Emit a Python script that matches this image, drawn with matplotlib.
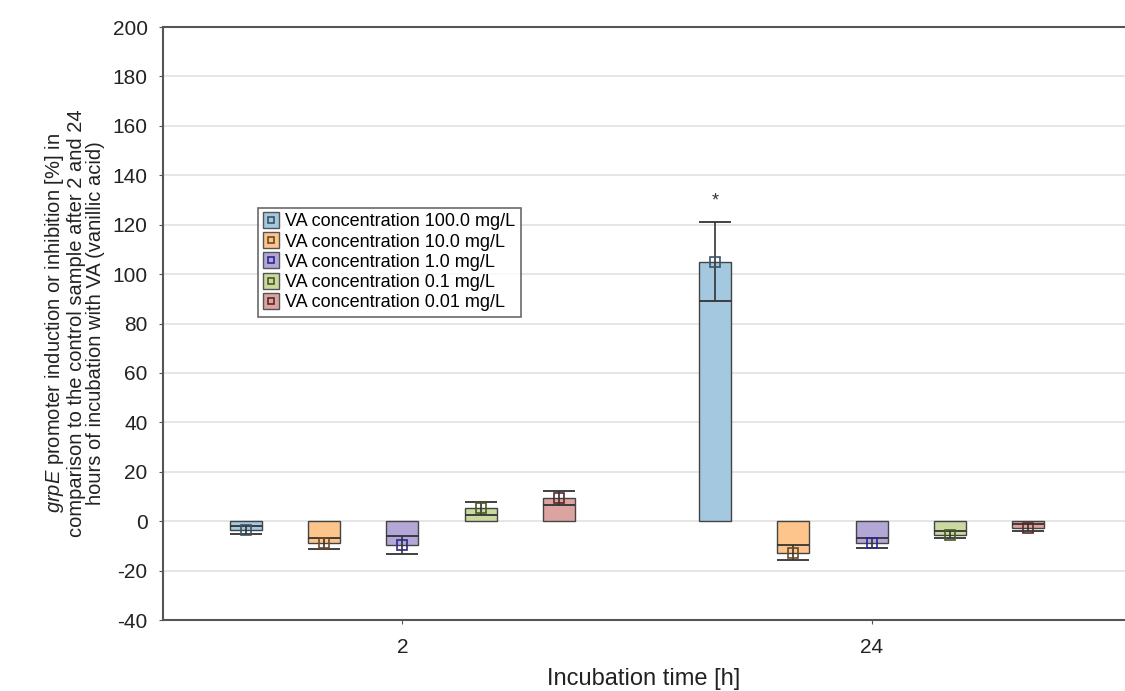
import matplotlib.pyplot as plt
from matplotlib.lines import Line2D

plt.rcParams['font.family'] = ['Liberation Sans', 'DejaVu Sans']
plt.rcParams['mathtext.fontset'] = 'custom'
plt.rcParams['mathtext.it'] = 'Liberation Sans:italic'
plt.rcParams['mathtext.rm'] = 'Liberation Sans'
plt.rcParams['axes.unicode_minus'] = False

# data
times = ['2', '24']
series = ['VA concentration 100.0 mg/L', 'VA concentration 10.0 mg/L',
          'VA concentration 1.0 mg/L', 'VA concentration 0.1 mg/L',
          'VA concentration 0.01 mg/L']
means_2h = [-3.5, -9.0, -9.5, 5.2, 9.5]
err_2h = [1.5, 2.3, 3.6, 2.6, 2.9]
means_24h = [105.0, -12.7, -8.7, -5.5, -2.7]
err_24h = [16.0, 2.9, 2.0, 1.5, 1.4]
stars_24h = ['*', '', '', '', '']

colors = ['#a4c8df', '#fdc48c', '#b3a7d8', '#c9d99f', '#dba4a0']
mcolors = ['#3a5566', '#6b4a26', '#2a2a90', '#4a5a20', '#5a2a2a']

fig = plt.figure(figsize=(11.25, 6.91), dpi=100)
ax = fig.add_axes([0.1449, 0.1027, 0.8551, 0.8582])

spacing = 0.167
width = 0.068
means = [means_2h, means_24h]
errs = [err_2h, err_24h]

for g in range(len(times)):
    for i in range(len(series)):
        x = g + (i - 2) * spacing
        m = means[g][i]
        e = errs[g][i]
        ax.bar(x, m, width=width, color=colors[i], edgecolor='#444444',
               linewidth=1.0, zorder=2)
        ax.vlines(x, m - e, m + e, color='#333333', linewidth=1.2, zorder=3)
        ax.hlines([m - e, m + e], x - width / 2, x + width / 2,
                  color='#333333', linewidth=1.3, zorder=3)
        ax.plot(x, m, marker='s', markersize=7, markerfacecolor='none',
                markeredgecolor=mcolors[i], markeredgewidth=1.2, zorder=4)
        if g == 1 and stars_24h[i]:
            ax.text(x, m + e + 5, stars_24h[i], ha='center', va='bottom',
                    fontsize=13, color='#333333')

ax.set_xlim(-0.51, 1.54)
ax.set_ylim(-40, 200)
ax.set_yticks(range(-40, 201, 20))
ax.set_xticks([0, 1])
ax.set_xticklabels(times)
ax.tick_params(labelsize=15, length=3, color='#555555', labelcolor='#222222')
ax.tick_params(axis='x', pad=10)
ax.tick_params(axis='y', pad=8)
ax.grid(axis='y', color='#e2e2e2', linewidth=1.2, zorder=0)
ax.set_axisbelow(True)
for s in ['left', 'top', 'bottom']:
    ax.spines[s].set_color('#555555')
    ax.spines[s].set_linewidth(1.5)
ax.spines['right'].set_visible(False)

ax.set_xlabel('Incubation time [h]', fontsize=17, color='#222222', labelpad=8)
ax.set_ylabel('$\\it{grpE}$ promoter induction or inhibition [%] in\n'
              'comparison to the control sample after 2 and 24\n'
              'hours of incubation with VA (vanillic acid)',
              fontsize=14.5, color='#222222', linespacing=1.05)
ax.yaxis.set_label_coords(-0.06, 0.5)

handles = []
for i in range(len(series)):
    outer = Line2D([], [], linestyle='none', marker='s', markersize=11,
                   markerfacecolor=colors[i], markeredgecolor='#555555')
    inner = Line2D([], [], linestyle='none', marker='s', markersize=5,
                   markerfacecolor='none', markeredgecolor=mcolors[i],
                   markeredgewidth=1.2)
    handles.append((outer, inner))

leg = ax.legend(handles, series, loc='upper left',
                bbox_to_anchor=(0.099, 0.695), fontsize=13, frameon=True,
                fancybox=False, edgecolor='#444444', handlelength=0.8,
                handletextpad=0.4, borderpad=0.3, labelspacing=0.18,
                borderaxespad=0)
leg.get_frame().set_linewidth(1.2)

fig.savefig('out.png', dpi=100)
